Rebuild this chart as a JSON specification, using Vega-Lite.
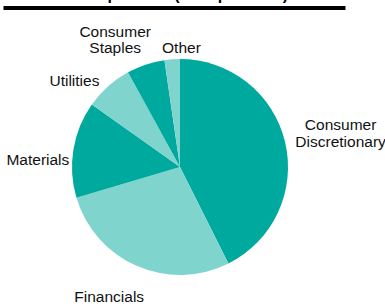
{
  "$schema": "https://vega.github.io/schema/vega-lite/v6.json",
  "autosize": "none",
  "width": 360,
  "height": 274,
  "padding": {"top": 30, "left": 0, "right": 25, "bottom": 0},
  "background": "white",
  "title": {"text": "Composition (% of portfolio)", "fontSize": 16, "fontWeight": "bold", "font": "Liberation Sans", "anchor": "middle", "offset": 3, "dy": 27, "baseline": "alphabetic", "color": "#000"},
  "config": {"view": {"stroke": null}, "text": {"font": "Liberation Sans", "fontSize": 15.5, "color": "#111"}},
  "data": {"values": [
    {"sector": "Consumer Discretionary", "value": 42.6},
    {"sector": "Financials", "value": 27.8},
    {"sector": "Materials", "value": 14.4},
    {"sector": "Utilities", "value": 7.2},
    {"sector": "Consumer Staples", "value": 5.7},
    {"sector": "Other", "value": 2.3}
  ]},
  "encoding": {
    "theta": {"field": "value", "type": "quantitative", "stack": true},
    "order": {"field": "value", "sort": "descending"}
  },
  "layer": [
    {
      "mark": {"type": "arc", "outerRadius": 108},
      "encoding": {
        "color": {"field": "sector", "type": "nominal", "legend": null,
          "scale": {"domain": ["Consumer Discretionary", "Financials", "Materials", "Utilities", "Consumer Staples", "Other"],
                    "range": ["#00A99D", "#80D4CE", "#00A99D", "#80D4CE", "#00A99D", "#80D4CE"]}}
      }
    },
    {
      "mark": {"type": "point", "opacity": 0},
      "encoding": {
        "theta": null,
        "order": null,
        "x": {"field": "value", "type": "quantitative",
          "scale": {"range": [3, 345]},
          "axis": {"orient": "top", "title": null, "labels": false, "ticks": false, "grid": false, "domainColor": "#000", "domainWidth": 4, "offset": 22.5, "minExtent": 0, "maxExtent": 0}}
      }
    },
    {
      "mark": {"type": "text", "radius": 164, "dx": 1, "dy": -4, "lineBreak": " ", "lineHeight": 17},
      "encoding": {"text": {"condition": {"test": "datum.sector === 'Consumer Discretionary'", "field": "sector"}, "value": ""}}
    },
    {
      "mark": {"type": "text", "radius": 148, "dx": -12, "dy": -6},
      "encoding": {"text": {"condition": {"test": "datum.sector === 'Financials'", "field": "sector"}, "value": ""}}
    },
    {
      "mark": {"type": "text", "radius": 141, "dx": -3, "dy": 16},
      "encoding": {"text": {"condition": {"test": "datum.sector === 'Materials'", "field": "sector"}, "value": ""}}
    },
    {
      "mark": {"type": "text", "radius": 136, "dx": -15, "dy": 15},
      "encoding": {"text": {"condition": {"test": "datum.sector === 'Utilities'", "field": "sector"}, "value": ""}}
    },
    {
      "mark": {"type": "text", "radius": 141, "dx": -20, "dy": -1, "lineBreak": " ", "lineHeight": 16},
      "encoding": {"text": {"condition": {"test": "datum.sector === 'Consumer Staples'", "field": "sector"}, "value": ""}}
    },
    {
      "mark": {"type": "text", "radius": 119, "dx": 10, "dy": 0},
      "encoding": {"text": {"condition": {"test": "datum.sector === 'Other'", "field": "sector"}, "value": ""}}
    }
  ]
}
